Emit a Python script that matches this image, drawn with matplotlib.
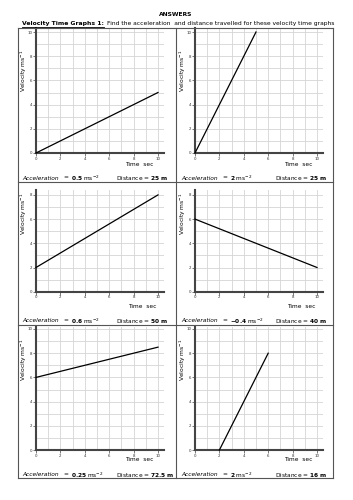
import matplotlib
matplotlib.use("Agg")
import matplotlib.pyplot as plt
from matplotlib.lines import Line2D
from matplotlib.ticker import MultipleLocator

# velocity-time lines, one per panel (t in sec, v in m/s)
t_start = [0, 0, 0, 0, 0, 2]
v_start = [0, 0, 2, 6, 6, 0]
t_end = [10, 5, 10, 10, 10, 6]
v_end = [5, 10, 8, 2, 8.5, 8]
accel = ["0.5", "2", "0.6", "-0.4", "0.25", "2"]
dist = ["25", "25", "50", "40", "72.5", "16"]
y_top = [10.3, 10.3, 8.4, 8.4, 10.2, 10.2]

W, H = 353, 500
fig = plt.figure(figsize=(W / 100, H / 100), dpi=100)
plt.rcParams['mathtext.fontset'] = 'dejavusans'

def fx(x):
    return x / W

def fy(y):
    return 1 - y / H

def fline(x0, y0, x1, y1, lw=0.8, c="#555555"):
    fig.add_artist(Line2D([fx(x0), fx(x1)], [fy(y0), fy(y1)], color=c, lw=lw,
                          transform=fig.transFigure))

# header
fig.text(fx(176), fy(15), "ANSWERS", ha="center", va="center", fontsize=4.3,
         fontweight="bold")
t1 = fig.text(fx(22), fy(23), "Velocity Time Graphs 1:", ha="left", va="center",
              fontsize=4.4, fontweight="bold")
fig.canvas.draw()
bb = t1.get_window_extent()
x_end = bb.x1
fig.text((x_end + 3) / W, fy(23),
         "Find the acceleration  and distance travelled for these velocity time graphs",
         ha="left", va="center", fontsize=4.3)
fline(22, 26.5, x_end, 26.5, lw=0.6, c="black")

# page frame
fline(18, 28, 333, 28)
fline(18, 478, 333, 478)
fline(18, 28, 18, 478)
fline(333, 28, 333, 478)
fline(176, 28, 176, 478)
fline(18, 182, 333, 182)
fline(18, 325, 333, 325)

origins_x = [36, 195]
origins_y = [153, 291.7, 450]
time_y = [164, 306, 459.5]
time_dx = [0, 3, 0]
text_y = [178, 321, 475]
lab_y = [71, 214, 360]
px = 12.2
py = 12.1

for i in range(6):
    r, c = divmod(i, 2)
    ox, oy = origins_x[c], origins_y[r]
    w = 10.5 * px
    h = y_top[i] * py
    ax = fig.add_axes([fx(ox), fy(oy), w / W, h / H])
    ax.set_xlim(0, 10.5)
    ax.set_ylim(0, y_top[i])
    ax.xaxis.set_major_locator(MultipleLocator(2))
    ax.yaxis.set_major_locator(MultipleLocator(2))
    ax.xaxis.set_minor_locator(MultipleLocator(1))
    ax.yaxis.set_minor_locator(MultipleLocator(1))
    ax.set_xticks([0, 2, 4, 6, 8, 10])
    ax.grid(which="both", color="#d4d4d4", lw=0.6)
    ax.set_axisbelow(True)
    for s in ["top", "right"]:
        ax.spines[s].set_visible(False)
    for s in ["left", "bottom"]:
        ax.spines[s].set_color("#444444")
        ax.spines[s].set_linewidth(1.5)
    ax.tick_params(which="major", length=2, width=0.5, labelsize=2.8, pad=0.6,
                   color="#444444", labelcolor="#333333")
    ax.tick_params(which="minor", length=0)
    ax.plot([t_start[i], t_end[i]], [v_start[i], v_end[i]], color="black", lw=0.9,
            clip_on=False, zorder=5)

    dx = ox - 36
    fig.text(fx(139 + dx + time_dx[r]), fy(time_y[r]), "Time  sec", ha="center",
             va="center", fontsize=4.2)
    fig.text(fx(ox - 12.5), fy(lab_y[r]), r"Velocity ms$^{-1}$", rotation=90,
             ha="center", va="center", fontsize=4.3)
    fig.text(fx(22 + dx), fy(text_y[r]), "Acceleration", ha="left", va="center",
             fontsize=4.2, style="italic")
    fig.text(fx(63 + dx), fy(text_y[r]), "=", ha="left", va="center", fontsize=4.2)
    fig.text(fx(71 + dx), fy(text_y[r]),
             r"$\mathbf{" + accel[i] + r"}$ ms$^{-2}$", ha="left", va="center",
             fontsize=4.2)
    fig.text(fx(116 + dx), fy(text_y[r]),
             r"Distance = $\mathbf{" + dist[i] + r"\ m}$", ha="left", va="center",
             fontsize=4.2)

fig.savefig("out.png", dpi=100, facecolor="white")
